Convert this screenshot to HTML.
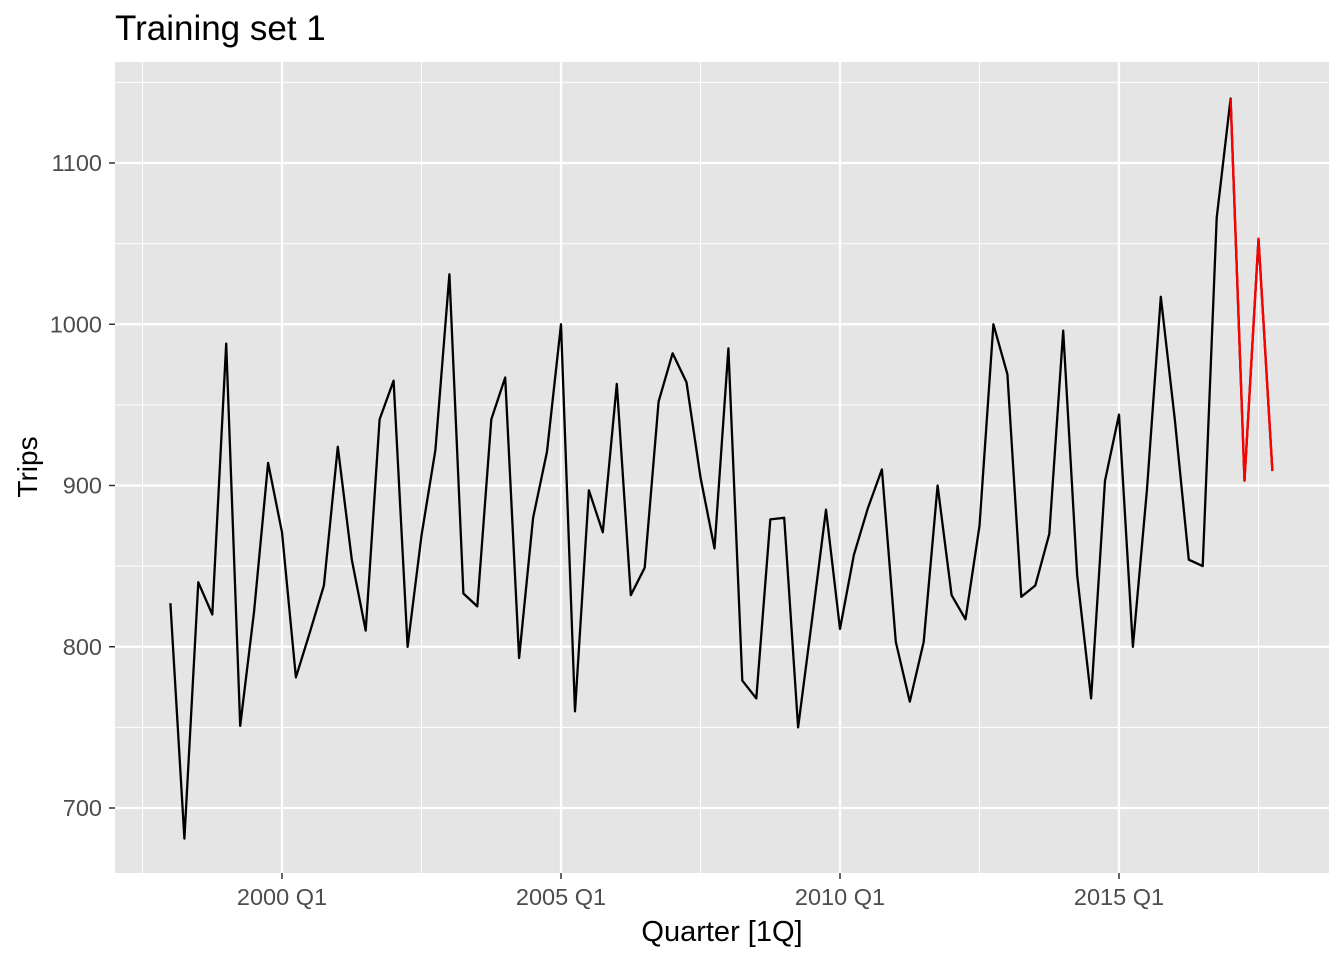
<!DOCTYPE html>
<html><head><meta charset="utf-8"><style>
body{margin:0;background:#fff;}
svg{display:block;font-family:"Liberation Sans",Arial,sans-serif;}
</style></head><body>
<svg id="chart" width="1344" height="960" viewBox="0 0 1344 960" xmlns="http://www.w3.org/2000/svg">
<text x="115" y="40" font-size="35" fill="#000">Training set 1</text>
<rect x="115" y="62" width="1214" height="811" fill="#e5e5e5"/>
<g id="grid"></g>
<g id="series"></g>
<g id="axes"></g>
<text x="722" y="941" font-size="29" text-anchor="middle">Quarter [1Q]</text>
<text transform="translate(37,467) rotate(-90)" font-size="28" text-anchor="middle">Trips</text>
</svg>
<script>
const startYear = 1998;
const trips = [827,681,840,820,988,751,822,914,871,781,809,838,924,854,810,941,965,800,869,922,1031,833,825,941,967,793,880,921,1000,760,897,871,963,832,849,952,982,964,905,861,985,779,768,879,880,750,817,885,811,857,886,910,803,766,803,900,832,817,875,1000,969,831,838,870,996,844,768,903,944,800,897,1017,941,854,850,1066,1140,903,1053,909];
const testStart = 76;
const yTicks = [700,800,900,1000,1100];
const yMinor = [750,850,950,1050,1150];
const xTickYears = [2000,2005,2010,2015];
const xTickLabels = ["2000 Q1","2005 Q1","2010 Q1","2015 Q1"];

const NS="http://www.w3.org/2000/svg";
const yScale=v=>163+(1100-v)*1.6125;
const xScale=q=>282+(q-8)*13.95;
const xYear=y=>xScale((y-startYear)*4);
function mk(tag,attrs,parent){const e=document.createElementNS(NS,tag);for(const k in attrs)e.setAttribute(k,attrs[k]);parent.appendChild(e);return e;}
const grid=document.getElementById('grid'),axes=document.getElementById('axes'),series=document.getElementById('series');
yMinor.forEach(v=>{const l=mk('line',{x1:115,x2:1329,y1:yScale(v),y2:yScale(v),stroke:'#fff','stroke-width':1},grid);

});
[1997.5,2002.5,2007.5,2012.5,2017.5].forEach(y=>{const x=xYear(y);if(x<115||x>1329)return;const l=mk('line',{x1:x,x2:x,y1:62,y2:873,stroke:'#fff','stroke-width':1},grid);

});
yTicks.forEach(v=>{const y=yScale(v);const l=mk('line',{x1:115,x2:1329,y1:y,y2:y,stroke:'#fff','stroke-width':2.2},grid);


const t=mk('line',{x1:109,x2:115,y1:y,y2:y,stroke:'#333','stroke-width':1.5},axes);


const tx=mk('text',{x:102,y:y+8,'font-size':23.5,fill:'#4d4d4d','text-anchor':'end'},axes);tx.textContent=v;

});
xTickYears.forEach((yr,i)=>{const x=xYear(yr);const l=mk('line',{x1:x,x2:x,y1:62,y2:873,stroke:'#fff','stroke-width':2.2},grid);


const t=mk('line',{x1:x,x2:x,y1:873,y2:879,stroke:'#333','stroke-width':1.5},axes);


const tx=mk('text',{x:x,y:905,'font-size':23.5,fill:'#4d4d4d','text-anchor':'middle'},axes);tx.textContent=xTickLabels[i];

});
const pts=trips.map((v,i)=>xScale(i).toFixed(1)+','+yScale(v).toFixed(1));
const pl=mk('polyline',{points:pts.join(' '),fill:'none',stroke:'#000','stroke-width':2.3,'stroke-linejoin':'round'},series);


const pr=mk('polyline',{points:pts.slice(testStart).join(' '),fill:'none',stroke:'#ff0000','stroke-width':2.3,'stroke-linejoin':'round'},series);


</script>
</body></html>
